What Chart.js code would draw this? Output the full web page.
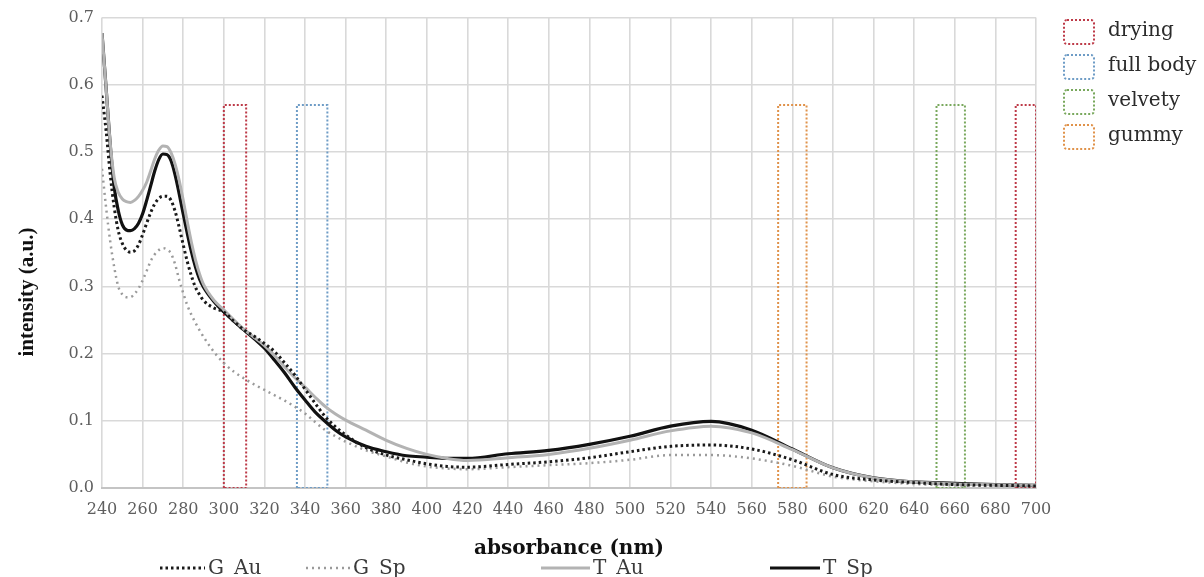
<!DOCTYPE html>
<html>
<head>
<meta charset="utf-8">
<script src="https://cdn.jsdelivr.net/npm/chart.js@4/dist/chart.umd.min.js"></script>
<style>
  html, body { margin: 0; padding: 0; background: #fff; }
  #chart { display: block; }
</style>
</head>
<body>
<canvas id="chart" width="1204" height="577"></canvas>
<script>
// wavelength grid (nm) and the four spectra
const wavelength = [240, 242, 244, 246, 248, 250, 252, 254, 256, 258, 260, 262, 264, 266, 268, 270, 272, 274, 276, 278,
  280, 282, 284, 286, 288, 290, 295, 300, 305, 310, 315, 320, 325, 330, 335, 340, 345, 350, 355, 360,
  370, 380, 390, 400, 410, 420, 440, 460, 480, 500, 520, 540, 560, 580, 600, 620, 640, 660, 680, 700];

const gAu = [0.584, 0.532, 0.468, 0.418, 0.383, 0.364, 0.354, 0.351, 0.353, 0.362, 0.377, 0.394, 0.410, 0.423, 0.431, 0.434, 0.434, 0.428, 0.412, 0.388,
  0.362, 0.337, 0.316, 0.299, 0.288, 0.279, 0.268, 0.262, 0.248, 0.235, 0.226, 0.215, 0.203, 0.186, 0.168, 0.147, 0.126, 0.106, 0.091, 0.079,
  0.060, 0.049, 0.042, 0.036, 0.032, 0.031, 0.035, 0.039, 0.045, 0.054, 0.062, 0.064, 0.058, 0.042, 0.020, 0.012, 0.008, 0.005, 0.004, 0.003];

const gSp = [0.475, 0.418, 0.368, 0.329, 0.300, 0.288, 0.284, 0.284, 0.289, 0.297, 0.309, 0.323, 0.338, 0.348, 0.354, 0.357, 0.355, 0.349, 0.333, 0.310,
  0.290, 0.272, 0.258, 0.246, 0.235, 0.225, 0.203, 0.186, 0.173, 0.163, 0.154, 0.146, 0.138, 0.130, 0.121, 0.111, 0.098, 0.086, 0.077, 0.069,
  0.056, 0.047, 0.038, 0.032, 0.029, 0.028, 0.031, 0.034, 0.037, 0.042, 0.049, 0.049, 0.044, 0.033, 0.017, 0.010, 0.006, 0.004, 0.003, 0.003];

const tAu = [0.677, 0.596, 0.515, 0.462, 0.440, 0.430, 0.426, 0.425, 0.428, 0.434, 0.443, 0.455, 0.472, 0.490, 0.503, 0.509, 0.508, 0.499, 0.482, 0.458,
  0.428, 0.396, 0.366, 0.340, 0.319, 0.303, 0.280, 0.265, 0.250, 0.236, 0.224, 0.212, 0.197, 0.180, 0.164, 0.150, 0.135, 0.121, 0.110, 0.101,
  0.086, 0.071, 0.059, 0.050, 0.044, 0.041, 0.045, 0.050, 0.059, 0.071, 0.085, 0.092, 0.082, 0.057, 0.030, 0.015, 0.009, 0.006, 0.005, 0.004];

const tSp = [0.677, 0.596, 0.513, 0.448, 0.413, 0.392, 0.384, 0.383, 0.386, 0.394, 0.408, 0.428, 0.450, 0.472, 0.489, 0.497, 0.496, 0.487, 0.466, 0.438,
  0.408, 0.379, 0.352, 0.329, 0.311, 0.299, 0.278, 0.262, 0.248, 0.235, 0.222, 0.208, 0.190, 0.171, 0.150, 0.131, 0.113, 0.099, 0.086, 0.076,
  0.062, 0.054, 0.048, 0.046, 0.044, 0.044, 0.051, 0.056, 0.065, 0.077, 0.092, 0.099, 0.086, 0.058, 0.030, 0.015, 0.009, 0.007, 0.005, 0.004];

// sensory regions (nm spans) shown as dotted boxes
const regionNames = ['drying', 'full body', 'velvety', 'gummy'];
const regionColors = ['#bd3a48', '#6e9cc6', '#79a85d', '#e0924a'];
const regionSpans = [
  [[300, 311], [690, 700]],
  [[336, 351]],
  [[651, 665]],
  [[573, 587]]
];
const regionTop = 0.57;

const xRange = [240, 700];
const yRange = [0, 0.7];

const serif = '"DejaVu Serif", serif';

function toPoints(ys) {
  return wavelength.map((x, i) => ({ x: x, y: ys[i] }));
}

function boxPoints(span) {
  const [a, b] = span;
  return [{ x: a, y: 0 }, { x: a, y: regionTop }, { x: b, y: regionTop }, { x: b, y: 0 }, { x: a, y: 0 }];
}

const seriesDefs = [
  { label: 'G_Au', data: gAu, color: '#1a1a1a', width: 3, dash: [2.5, 3] },
  { label: 'G_Sp', data: gSp, color: '#9a9a9a', width: 2.5, dash: [2, 4] },
  { label: 'T_Au', data: tAu, color: '#b3b3b3', width: 3, dash: [] },
  { label: 'T_Sp', data: tSp, color: '#111111', width: 3.2, dash: [] }
];

const datasets = seriesDefs.map(s => ({
  label: s.label,
  data: toPoints(s.data),
  borderColor: s.color,
  borderWidth: s.width,
  borderDash: s.dash,
  pointRadius: 0,
  fill: false,
  cubicInterpolationMode: 'monotone'
}));

regionSpans.forEach((spans, i) => {
  spans.forEach(span => {
    datasets.push({
      label: regionNames[i],
      data: boxPoints(span),
      borderColor: regionColors[i],
      borderWidth: 2,
      borderDash: [2, 2],
      pointRadius: 0,
      tension: 0,
      fill: false
    });
  });
});

// legends (box legend top right, line legend at the bottom) and the y title,
// which sits lower than the centre of the axis in the original
const legendPlugin = {
  id: 'legends',
  afterDraw(chart) {
    const ctx = chart.ctx;
    ctx.save();

    regionNames.forEach((name, i) => {
      const y0 = 20 + i * 35;
      ctx.strokeStyle = regionColors[i];
      ctx.lineWidth = 2;
      ctx.setLineDash([2, 2]);
      ctx.beginPath();
      ctx.roundRect(1064, y0, 30, 24, 3);
      ctx.stroke();
      ctx.setLineDash([]);
      ctx.fillStyle = '#2b2b2b';
      ctx.font = '20px ' + serif;
      ctx.textBaseline = 'middle';
      ctx.textAlign = 'left';
      ctx.fillText(name, 1108, y0 + 11);
    });

    const slots = [[160, 205], [306, 350], [541, 590], [770, 820]];
    seriesDefs.forEach((s, i) => {
      const [x0, x1] = slots[i];
      ctx.strokeStyle = s.color;
      ctx.lineWidth = s.width;
      ctx.setLineDash(s.dash);
      ctx.beginPath();
      ctx.moveTo(x0, 568);
      ctx.lineTo(x1, 568);
      ctx.stroke();
      ctx.setLineDash([]);
      ctx.fillStyle = '#3a3a3a';
      ctx.font = '20px ' + serif;
      ctx.textBaseline = 'alphabetic';
      ctx.textAlign = 'left';
      ctx.fillText(s.label, x1 + 3, 574);
    });

    ctx.translate(28, 292);
    ctx.rotate(-Math.PI / 2);
    ctx.fillStyle = '#111';
    ctx.font = 'bold 21px "Liberation Serif", serif';
    ctx.textAlign = 'center';
    ctx.textBaseline = 'middle';
    ctx.fillText('intensity (a.u.)', 0, 0);

    ctx.restore();
  }
};

new Chart(document.getElementById('chart'), {
  type: 'line',
  data: { datasets: datasets },
  options: {
    responsive: false,
    devicePixelRatio: 1,
    animation: false,
    layout: { padding: { left: 0, top: 17, right: 168, bottom: 0 } },
    plugins: {
      legend: { display: false },
      tooltip: { enabled: false }
    },
    scales: {
      x: {
        type: 'linear',
        min: xRange[0],
        max: xRange[1],
        afterFit: s => { s.height = 89; },
        ticks: {
          stepSize: 20,
          padding: 12,
          color: '#5e5e5e',
          font: { family: serif, size: 16 },
          maxRotation: 0,
          autoSkip: false
        },
        grid: { color: '#d9d9d9', lineWidth: 1.6, drawTicks: false },
        border: { color: '#c4c4c4', width: 2 },
        title: {
          display: true,
          text: 'absorbance (nm)',
          color: '#111',
          font: { family: serif, size: 20, weight: 'bold' },
          padding: { top: 0, bottom: 16 }
        }
      },
      y: {
        min: yRange[0],
        max: yRange[1],
        afterFit: s => { s.width = 102; },
        ticks: {
          stepSize: 0.1,
          padding: 8,
          color: '#5e5e5e',
          font: { family: serif, size: 16 },
          callback: v => v.toFixed(1)
        },
        grid: { color: '#d9d9d9', lineWidth: 1.6, drawTicks: false },
        border: { display: false },
        title: { display: false }
      }
    }
  },
  plugins: [legendPlugin]
});
</script>
</body>
</html>
